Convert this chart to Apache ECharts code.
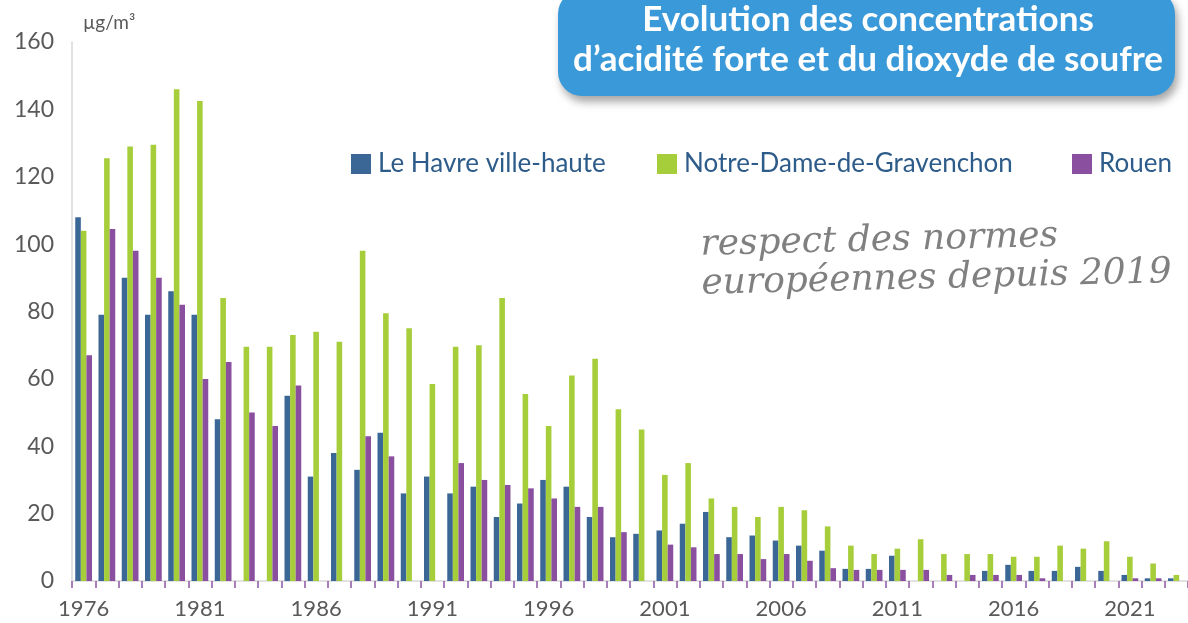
<!DOCTYPE html>
<html>
<head>
<meta charset="utf-8">
<script src="https://cdn.jsdelivr.net/npm/echarts@6/dist/echarts.min.js"></script>
<style>
  html, body { margin: 0; padding: 0; background: #fff; }
  #chart { width: 1188px; height: 623px; }
</style>
</head>
<body>
<div id="chart"></div>
<script>
const years = [];
for (let y = 1976; y <= 2023; y++) years.push(String(y));

const leHavre = [108, 79, 90, 79, 86, 79, 48, null, null, 55,
  31, 38, 33, 44, 26, 31, 26, 28, 19, 23,
  30, 28, 19, 13, 14, 15, 17, 20.5, 13, 13.5,
  12, 10.5, 9, 3.6, 3.6, 7.5, null, null, null, 3,
  4.8, 3, 3, 4.2, 3, 1.8, 0.8, 0.8];

const gravenchon = [104, 125.5, 129, 129.5, 146, 142.5, 84, 69.5, 69.5, 73,
  74, 71, 98, 79.5, 75, 58.5, 69.5, 70, 84, 55.5,
  46, 61, 66, 51, 45, 31.5, 35, 24.5, 22, 19,
  22, 21, 16.2, 10.5, 8, 9.6, 12.4, 8, 8, 8,
  7.2, 7.2, 10.5, 9.6, 11.8, 7.2, 5.2, 1.8];

const rouen = [67, 104.5, 98, 90, 82, 60, 65, 50, 46, 58,
  null, null, 43, 37, null, null, 35, 30, 28.5, 27.5,
  24.5, 22, 22, 14.5, null, 10.8, 10, 8, 8, 6.5,
  8, 6, 3.8, 3.3, 3.3, 3.3, 3.3, 1.8, 1.8, 1.8,
  1.8, 0.8, null, null, null, 0.8, 0.8, null];

const colors = ['#3b6796', '#a6cd3a', '#8a4f9f'];
const names = ['Le Havre ville-haute', 'Notre-Dame-de-Gravenchon', 'Rouen'];

const chart = echarts.init(document.getElementById('chart'));

const legendText = { fontFamily: 'Lato', fontSize: 26, color: '#2e5c8a', padding: [0, 0, 0, 2] };
const mkLegend = (name, left) => ({
  data: [name],
  left: left,
  top: 146,
  icon: 'rect',
  itemWidth: 20,
  itemHeight: 20,
  itemGap: 0,
  textStyle: legendText,
  selectedMode: false
});

const option = {
  animation: false,
  color: colors,
  legend: [
    mkLegend(names[0], 346),
    mkLegend(names[1], 652),
    mkLegend(names[2], 1067)
  ],
  grid: { left: 72, top: 42, width: 1118, bottom: 42, containLabel: false },
  xAxis: {
    type: 'category',
    data: years,
    axisLine: { lineStyle: { color: '#d9d9d9', width: 1.5 } },
    axisTick: { show: true, interval: 0, length: 7, lineStyle: { color: '#8e55a6', width: 1.5 } },
    axisLabel: { interval: 4, margin: 17, fontFamily: 'Lato', fontSize: 22, color: '#595959' }
  },
  yAxis: {
    type: 'value',
    min: 0,
    max: 160,
    interval: 20,
    name: 'µg/m³',
    nameLocation: 'end',
    nameGap: 10,
    nameTextStyle: { align: 'left', padding: [0, 0, 0, 11], fontFamily: 'Lato', fontSize: 19, color: '#595959' },
    axisLine: { show: true, lineStyle: { color: '#d9d9d9', width: 1.5 } },
    axisTick: { show: false },
    splitLine: { show: false },
    axisLabel: { margin: 18, fontFamily: 'Lato', fontSize: 23, color: '#595959' }
  },
  series: [
    { name: names[0], type: 'bar', data: leHavre, barGap: '0%', barCategoryGap: '28%' },
    { name: names[1], type: 'bar', data: gravenchon, barGap: '0%', barCategoryGap: '28%' },
    { name: names[2], type: 'bar', data: rouen, barGap: '0%', barCategoryGap: '28%' }
  ],
  graphic: [
    {
      type: 'rect',
      left: 558,
      top: -10,
      shape: { width: 617, height: 106, r: 24 },
      style: {
        fill: '#3a99d8',
        shadowBlur: 8,
        shadowOffsetX: 3,
        shadowOffsetY: 6,
        shadowColor: 'rgba(0,0,0,0.35)'
      },
      z: 10
    },
    {
      type: 'text',
      x: 868,
      y: 0,
      style: {
        text: 'Evolution des concentrations\nd\u2019acidité forte et du dioxyde de soufre',
        fill: '#ffffff',
        font: 'bold 35px Lato',
        align: 'center',
        lineHeight: 40
      },
      z: 11
    },
    {
      type: 'text',
      x: 700,
      y: 226,
      rotation: 0.025,
      style: {
        text: 'respect des normes\neuropéennes depuis 2019',
        fill: '#808080',
        font: 'italic 36px "DejaVu Serif"',
        lineHeight: 39
      },
      z: 5
    }
  ]
};

chart.setOption(option);
</script>
</body>
</html>
